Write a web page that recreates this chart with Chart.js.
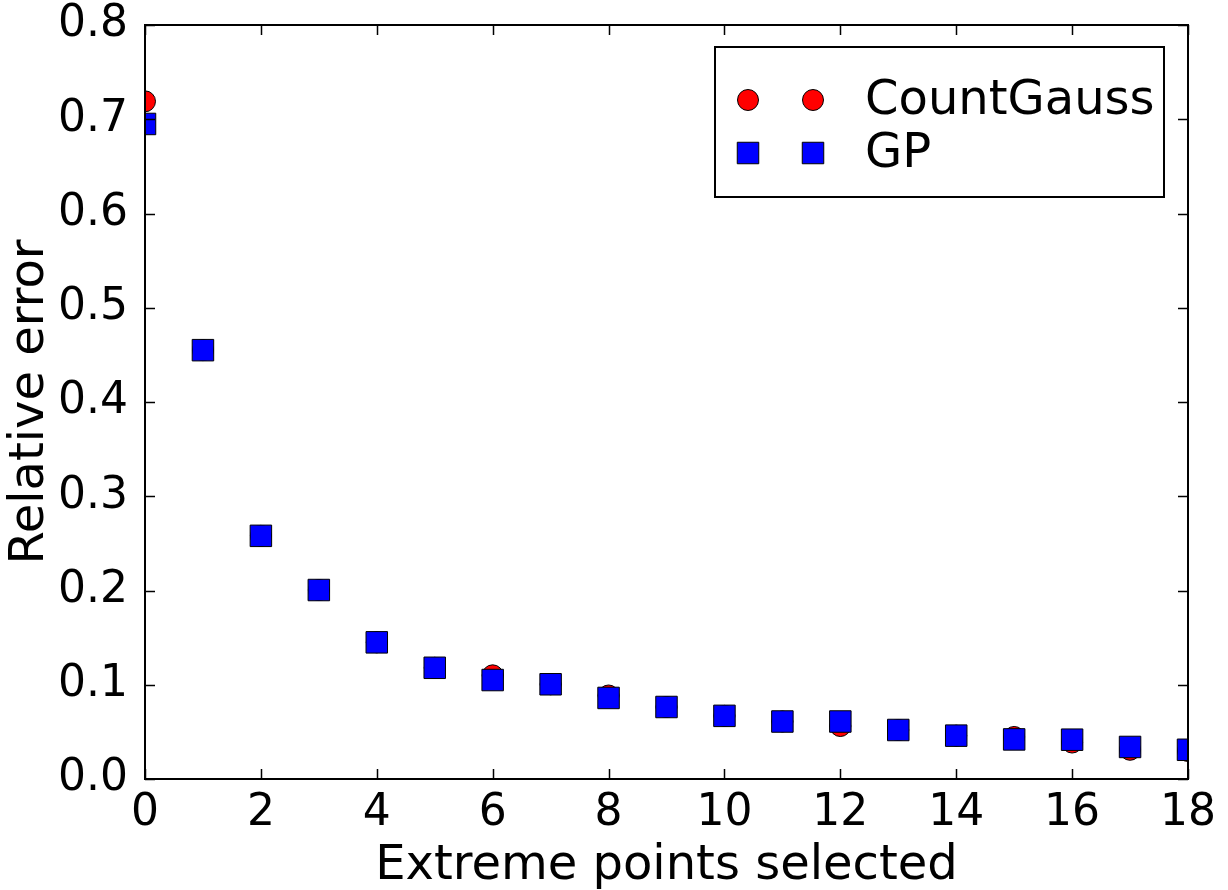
<!DOCTYPE html>
<html>
<head>
<meta charset="utf-8">
<script src="https://cdn.jsdelivr.net/npm/chart.js@4/dist/chart.umd.min.js"></script>
<style>
  html, body { margin: 0; padding: 0; background: #fff; }
  #wrap { width: 1228px; height: 890px; }
</style>
</head>
<body>
<div id="wrap"><canvas id="chart" width="1228" height="890"></canvas></div>
<script>
const xValues = [0, 1, 2, 3, 4, 5, 6, 7, 8, 9, 10, 11, 12, 13, 14, 15, 16, 17, 18];
const countGauss = [0.719, 0.455, 0.258, 0.2005, 0.145, 0.118, 0.110, 0.1005, 0.0886, 0.0764, 0.067, 0.061, 0.0562, 0.052, 0.046, 0.0446, 0.0387, 0.031, 0.0297];
const gp = [0.695, 0.455, 0.258, 0.2005, 0.145, 0.118, 0.105, 0.1005, 0.086, 0.0764, 0.067, 0.061, 0.061, 0.052, 0.046, 0.042, 0.0417, 0.034, 0.031];
const xTitle = "Extreme points selected";
const yTitle = "Relative error";

const font = "'DejaVu Sans', sans-serif";

const toPoints = (ys) => xValues.map((x, i) => ({ x: x, y: ys[i] }));

// matplotlib-style frame with inward ticks on all four sides
const framePlugin = {
  id: "frame",
  afterDatasetsDraw(chart) {
    const { ctx, chartArea: a, scales } = chart;
    ctx.save();
    ctx.strokeStyle = "#000";
    ctx.lineWidth = 1.5;
    const len = 10;
    scales.x.ticks.forEach((t) => {
      const px = Math.round(scales.x.getPixelForValue(t.value)) + 0.5;
      ctx.beginPath();
      ctx.moveTo(px, a.bottom); ctx.lineTo(px, a.bottom - len);
      ctx.moveTo(px, a.top); ctx.lineTo(px, a.top + len);
      ctx.stroke();
    });
    scales.y.ticks.forEach((t) => {
      const py = Math.round(scales.y.getPixelForValue(t.value)) + 0.5;
      ctx.beginPath();
      ctx.moveTo(a.left, py); ctx.lineTo(a.left + len, py);
      ctx.moveTo(a.right, py); ctx.lineTo(a.right - len, py);
      ctx.stroke();
    });
    ctx.lineWidth = 2;
    ctx.strokeRect(a.left, a.top, a.right - a.left, a.bottom - a.top);

    // legend box, two markers per entry like matplotlib's numpoints=2
    const boxR = a.right - 24, boxT = a.top + 22, boxW = 449, boxH = 150;
    const boxL = boxR - boxW;
    ctx.fillStyle = "#fff";
    ctx.fillRect(boxL, boxT, boxW, boxH);
    ctx.strokeRect(boxL, boxT, boxW, boxH);
    const entries = [chart.data.datasets[1], chart.data.datasets[0]];
    entries.forEach((ds, i) => {
      const cy = boxT + 53 + i * 53;
      [boxL + 33, boxL + 98].forEach((cx) => {
        ctx.beginPath();
        ctx.fillStyle = ds.backgroundColor;
        ctx.strokeStyle = "#000";
        ctx.lineWidth = 1;
        if (ds.pointStyle === "rect") {
          ctx.rect(cx - 10.75, cy - 10.75, 21.5, 21.5);
        } else {
          ctx.arc(cx, cy, 10.5, 0, Math.PI * 2);
        }
        ctx.fill();
        ctx.stroke();
      });
      ctx.fillStyle = "#000";
      ctx.font = "48px " + font;
      ctx.textBaseline = "middle";
      ctx.textAlign = "left";
      ctx.fillText(ds.label, boxL + 150, cy + 2);
    });
    ctx.restore();
  }
};

new Chart(document.getElementById("chart"), {
  type: "scatter",
  data: {
    datasets: [
      {
        label: "GP",
        data: toPoints(gp),
        pointStyle: "rect",
        pointRadius: 15.2,
        pointHoverRadius: 15.2,
        backgroundColor: "#0000ff",
        borderColor: "#000",
        borderWidth: 1,
        clip: 0,
        order: 0
      },
      {
        label: "CountGauss",
        data: toPoints(countGauss),
        pointStyle: "circle",
        pointRadius: 10.5,
        pointHoverRadius: 10.5,
        backgroundColor: "#ff0000",
        borderColor: "#000",
        borderWidth: 1,
        clip: 0,
        order: 1
      }
    ]
  },
  options: {
    responsive: false,
    devicePixelRatio: 1,
    animation: false,
    layout: { padding: { left: 0, right: 40, top: 25, bottom: 0 } },
    plugins: {
      legend: { display: false },
      tooltip: { enabled: false }
    },
    scales: {
      x: {
        type: "linear",
        min: 0,
        max: 18,
        ticks: {
          stepSize: 2,
          color: "#000",
          font: { family: font, size: 44 },
          padding: 0,
          maxRotation: 0
        },
        grid: { display: false },
        border: { display: false },
        title: {
          display: true,
          text: xTitle,
          color: "#000",
          font: { family: font, size: 48 },
          padding: { top: 0, bottom: -5 }
        },
        afterFit(scale) {
          scale.height = 111;
          scale.paddingLeft = 0;
          scale.paddingRight = 0;
        }
      },
      y: {
        type: "linear",
        min: 0,
        max: 0.8,
        ticks: {
          stepSize: 0.1,
          color: "#000",
          font: { family: font, size: 44 },
          padding: 9,
          callback: (v) => v.toFixed(1)
        },
        grid: { display: false },
        border: { display: false },
        title: {
          display: true,
          text: yTitle,
          color: "#000",
          font: { family: font, size: 48 },
          padding: { top: 2, bottom: 0 }
        },
        afterFit(scale) {
          scale.width = 145;
          scale.paddingTop = 0;
          scale.paddingBottom = 0;
        }
      }
    }
  },
  plugins: [framePlugin]
});
</script>
</body>
</html>
